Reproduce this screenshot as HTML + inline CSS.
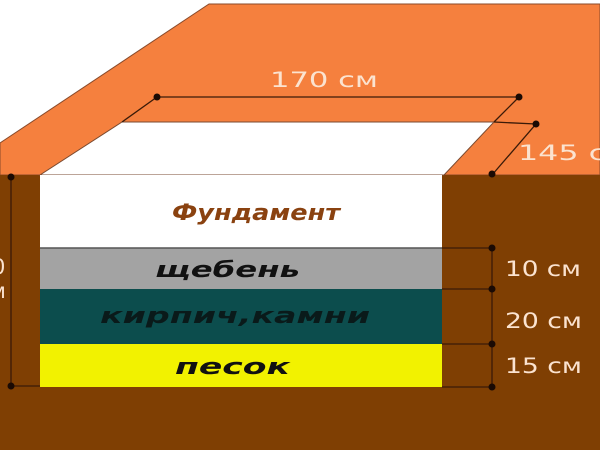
<!DOCTYPE html>
<html><head><meta charset="utf-8"><style>
html,body{margin:0;padding:0;background:#fff;width:600px;height:450px;overflow:hidden}
svg{display:block}
</style></head><body>
<svg width="600" height="450" viewBox="0 0 600 450" xmlns="http://www.w3.org/2000/svg" font-family="DejaVu Sans, Liberation Sans, sans-serif">
<rect x="0" y="0" width="600" height="450" fill="#ffffff"/>
<polygon points="209,4 600,4 600,175 0,175 0,143" fill="#f5803e" stroke="#8a4a2a" stroke-width="1"/>
<rect x="0" y="175" width="600" height="275" fill="#7f3f03"/>
<polygon points="122,122 494,122 444,175 40,175" fill="#ffffff" stroke="#7a4a30" stroke-width="1"/>
<rect x="40" y="175" width="402" height="73" fill="#ffffff"/>
<rect x="40" y="248" width="402" height="41" fill="#a3a3a3"/>
<rect x="40" y="289" width="402" height="55" fill="#0c4d4d"/>
<rect x="40" y="344" width="402" height="43" fill="#f2f200"/>
<line x1="40" y1="248" x2="442" y2="248" stroke="#555" stroke-width="1.5"/>
<g stroke="#3a1a08" stroke-width="1.3" fill="none">
<line x1="157" y1="97" x2="519" y2="97"/>
<line x1="157" y1="97" x2="122" y2="122"/>
<line x1="519" y1="97" x2="494" y2="122"/>
<line x1="494" y1="122" x2="536" y2="124"/>
<line x1="536" y1="124" x2="492" y2="175"/>
<line x1="492" y1="248" x2="492" y2="387"/>
<line x1="442" y1="248" x2="492" y2="248"/>
<line x1="442" y1="289" x2="492" y2="289"/>
<line x1="442" y1="344" x2="492" y2="344"/>
<line x1="442" y1="387" x2="492" y2="387"/>
<line x1="11" y1="177" x2="11" y2="386"/>
<line x1="11" y1="386" x2="40" y2="386"/>
</g>
<g fill="#1a0a04">
<circle cx="157" cy="97" r="3.5"/><circle cx="519" cy="97" r="3.5"/>
<circle cx="536" cy="124" r="3.5"/><circle cx="492" cy="174" r="3.5"/>
<circle cx="492" cy="248" r="3.5"/><circle cx="492" cy="289" r="3.5"/>
<circle cx="492" cy="344" r="3.5"/><circle cx="492" cy="387" r="3.5"/>
<circle cx="11" cy="177" r="3.5"/><circle cx="11" cy="386" r="3.5"/>
</g>
<g fill="#fbe3d0" font-size="21">
<text x="270" y="87" textLength="108" lengthAdjust="spacingAndGlyphs">170 см</text>
<text x="518" y="160" textLength="112" lengthAdjust="spacingAndGlyphs">145 см</text>
<text x="505" y="276" textLength="76" lengthAdjust="spacingAndGlyphs">10 см</text>
<text x="505" y="328" textLength="77" lengthAdjust="spacingAndGlyphs">20 см</text>
<text x="505" y="373" textLength="77" lengthAdjust="spacingAndGlyphs">15 см</text>
<text x="-8" y="274">0</text>
<text x="-10" y="298">м</text>
</g>
<text x="172" y="220" textLength="168" lengthAdjust="spacingAndGlyphs" font-size="22" font-weight="bold" font-style="italic" fill="#8a4210">Фундамент</text>
<g font-size="22" font-weight="bold" font-style="italic" fill="#111">
<text x="155" y="277" textLength="145" lengthAdjust="spacingAndGlyphs">щебень</text>
<text x="100" y="323" textLength="270" lengthAdjust="spacingAndGlyphs" fill="#0a1a1a">кирпич,камни</text>
<text x="175" y="374" textLength="115" lengthAdjust="spacingAndGlyphs">песок</text>
</g>
</svg>
</body></html>
